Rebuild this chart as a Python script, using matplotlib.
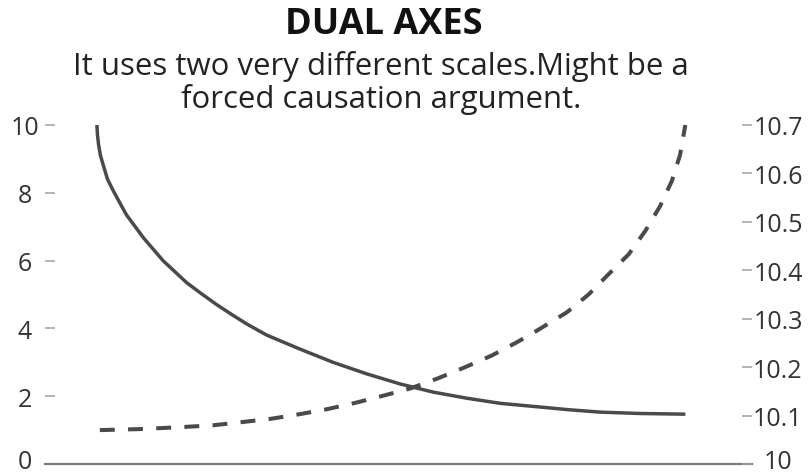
import matplotlib
matplotlib.use("Agg")
import matplotlib.pyplot as plt
import matplotlib.transforms as mtransforms

plt.rcParams['font.family'] = ['Open Sans', 'DejaVu Sans']

# Solid series (left axis)
x_solid = [0.0, 0.01, 0.03, 0.06, 0.11, 0.18, 0.28, 0.50, 0.79, 1.12, 1.52,
           1.75, 2.03, 2.31, 2.54, 2.88, 3.44, 4.00, 4.57, 5.14, 5.70, 6.27,
           6.83, 7.45, 8.00, 8.53, 9.20, 9.97]
y_solid = [10.0, 9.7, 9.4, 9.1, 8.8, 8.4, 8.05, 7.35, 6.67, 6.0, 5.35,
           5.05, 4.7, 4.38, 4.13, 3.8, 3.39, 3.0, 2.66, 2.36, 2.12, 1.94,
           1.79, 1.69, 1.6, 1.53, 1.49, 1.47]

# Dashed series (right axis)
x_dash = [0.05, 0.70, 1.41, 1.97, 2.42, 2.93, 3.44, 3.89, 4.37, 4.85, 5.31,
          5.76, 6.24, 6.69, 7.11, 7.45, 7.96, 8.33, 8.67, 9.01, 9.29, 9.54,
          9.74, 9.88, 9.97]
y_dash = [10.07, 10.072, 10.076, 10.080, 10.086, 10.093, 10.103, 10.113,
          10.126, 10.141, 10.156, 10.176, 10.200, 10.224, 10.251, 10.275,
          10.313, 10.350, 10.392, 10.433, 10.481, 10.532, 10.584, 10.638, 10.70]

left_ticks = [0, 2, 4, 6, 8, 10]
left_labels = ["0", "2", "4", "6", "8", "10"]
right_ticks = [10, 10.1, 10.2, 10.3, 10.4, 10.5, 10.6, 10.7]
right_labels = ["10", "10.1", "10.2", "10.3", "10.4", "10.5", "10.6", "10.7"]

title = "DUAL AXES"
subtitle = "It uses two very different scales.Might be a\nforced causation argument."

W, H = 812, 477
y_bot, y_top = 465, 126
fig = plt.figure(figsize=(W / 100, H / 100), dpi=100)
ax = fig.add_axes([55 / W, 1 - y_bot / H, (742 - 55) / W, (y_bot - y_top) / H])
ax2 = ax.twinx()

line_color = "#4a4a4a"
ax.plot(x_solid, y_solid, color=line_color, lw=2.5, solid_capstyle='butt',
        solid_joinstyle='round', clip_on=False)
ax2.plot(x_dash, y_dash, color=line_color, lw=2.9, dashes=(3.7, 3.3),
         dash_capstyle='butt', dash_joinstyle='round', clip_on=False)

ax.set_xlim(-0.71, 10.93)
ax.set_ylim(0, 10)
ax2.set_ylim(10, 10.7)

ax.set_yticks(left_ticks)
ax.set_yticklabels(left_labels)
ax2.set_yticks(right_ticks)
ax2.set_yticklabels(right_labels)
ax.set_xticks([])

for a in (ax, ax2):
    for s in ("top", "left", "right", "bottom"):
        a.spines[s].set_visible(False)
    a.patch.set_visible(False)

ax.tick_params(axis='y', length=7.2, width=1.1, color="#a0a0a0", pad=14.4,
               labelsize=18, labelcolor="#333333")
ax2.tick_params(axis='y', length=7.2, width=1.1, color="#a0a0a0", pad=18.7,
                labelsize=18, labelcolor="#333333")
for lab in ax.get_yticklabels():
    lab.set_horizontalalignment('center')
for lab in ax2.get_yticklabels():
    lab.set_horizontalalignment('center')

# nudge the two bottom labels up slightly so they stay inside the canvas
shift = mtransforms.ScaledTranslation(0, 5 / 100, fig.dpi_scale_trans)
for t in ax.yaxis.get_major_ticks()[:1] + ax2.yaxis.get_major_ticks()[:1]:
    t.label1.set_transform(t.label1.get_transform() + shift)
    t.label2.set_transform(t.label2.get_transform() + shift)

# bottom baseline spanning both tick extents
ax.axhline(0, xmin=-10 / (742 - 55), xmax=1 + 10 / (742 - 55), color="#7a7a7a",
           lw=1.6, clip_on=False)

fig.text(384 / W, 1 - 25 / H, title, ha='center', va='center',
         fontsize=26, fontweight='bold', color="#111111")
fig.text(381 / W, 1 - 83 / H, subtitle, ha='center', va='center',
         fontsize=22.4, color="#222222", linespacing=1.1)

fig.savefig("out.png", dpi=100)
